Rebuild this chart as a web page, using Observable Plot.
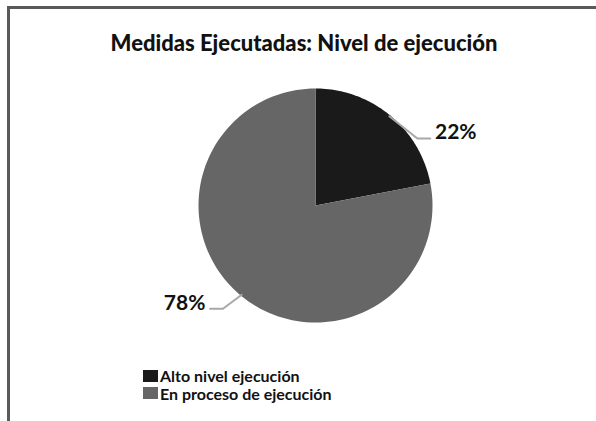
<!DOCTYPE html>
<html><head><meta charset="utf-8">
<script src="https://cdn.jsdelivr.net/npm/d3@7"></script>
<script src="https://cdn.jsdelivr.net/npm/@observablehq/plot@0.6"></script>
<style>
body{margin:0;background:#fff;overflow:hidden;}
#wrap{position:relative;width:596px;height:421px;overflow:hidden;}
#border{position:absolute;left:7px;top:6px;width:700px;height:600px;border-left:3px solid #5a5a5a;border-top:3px solid #5a5a5a;}
#chart{position:absolute;left:0;top:0;}
#title{position:absolute;left:6px;width:596px;top:29px;text-align:center;font:900 22px Lato,sans-serif;color:#111;white-space:nowrap;}
#legend{position:absolute;left:143px;top:367px;font:bold 16px Lato,sans-serif;color:#111;}
#legend .row{height:17.5px;line-height:15px;display:flex;align-items:center;white-space:nowrap;}
#legend .sw{width:15px;height:12px;margin-right:2px;display:inline-block;}
</style></head><body>
<div id="wrap"><div id="chart"></div><div id="border"></div><div id="title"></div><div id="legend"></div></div>
<script>
const title = "Medidas Ejecutadas: Nivel de ejecución";
const categories = ["Alto nivel ejecución", "En proceso de ejecución"];
const values = [22, 78];
const labels = ["22%", "78%"];
const colors = ["#1a1a1a", "#666666"];

document.getElementById("title").textContent = title;
const leg = document.getElementById("legend");
categories.forEach((c, i) => {
  const r = document.createElement("div"); r.className = "row";
  const s = document.createElement("span"); s.className = "sw"; s.style.background = colors[i];
  const t = document.createElement("span"); t.textContent = c;
  r.appendChild(s); r.appendChild(t); leg.appendChild(r);
});

const W = 596, H = 421, cx = 315, cy = 205, R = 117;
const arcs = d3.pie().sort(null)(values);
const poly = [];
arcs.forEach((a, i) => {
  const n = 120;
  poly.push({cat: categories[i], x: 0, y: 0});
  for (let k = 0; k <= n; k++) {
    const t = a.startAngle + (a.endAngle - a.startAngle) * k / n;
    poly.push({cat: categories[i], x: Math.sin(t), y: Math.cos(t)});
  }
  poly.push({cat: categories[i], x: 0, y: 0});
});

const leaders = [], labelPts = [];
arcs.forEach((a, i) => {
  const m = (a.startAngle + a.endAngle) / 2;
  const ex = Math.sin(m) * 0.99, ey = Math.cos(m) * 0.99;
  const right = ex >= 0;
  const ox = right ? 0.24 : -0.16, oy = right ? -0.19 : -0.12;
  const bx = ex + ox, by = ey + oy;
  const fx = bx + (right ? 0.11 : -0.11);
  leaders.push({cat: categories[i], x: ex, y: ey}, {cat: categories[i], x: bx, y: by}, {cat: categories[i], x: fx, y: by});
  labelPts.push({label: labels[i], x: fx + (right ? 0.04 : -0.04), y: by + 0.05, anchor: right ? "start" : "end"});
});

const chart = Plot.plot({
  width: W, height: H, margin: 0,
  x: {domain: [-cx / R, (W - cx) / R], range: [0, W], axis: null},
  y: {domain: [(cy - H) / R, cy / R], range: [H, 0], axis: null},
  color: {domain: categories, range: colors},
  marks: [
    Plot.line(poly, {x: "x", y: "y", z: "cat", fill: "cat", stroke: "none", curve: "linear-closed"}),
    Plot.line(leaders, {x: "x", y: "y", z: "cat", stroke: "#a8a8a8", strokeWidth: 2}),
    Plot.text(labelPts.filter(d => d.anchor === "start"), {x: "x", y: "y", text: "label", textAnchor: "start", fontSize: 21, fontWeight: "bold", fontFamily: "Lato, sans-serif", fill: "#111"}),
    Plot.text(labelPts.filter(d => d.anchor === "end"), {x: "x", y: "y", text: "label", textAnchor: "end", fontSize: 21, fontWeight: "bold", fontFamily: "Lato, sans-serif", fill: "#111"})
  ]
});
document.getElementById("chart").appendChild(chart);
</script>
</body></html>
